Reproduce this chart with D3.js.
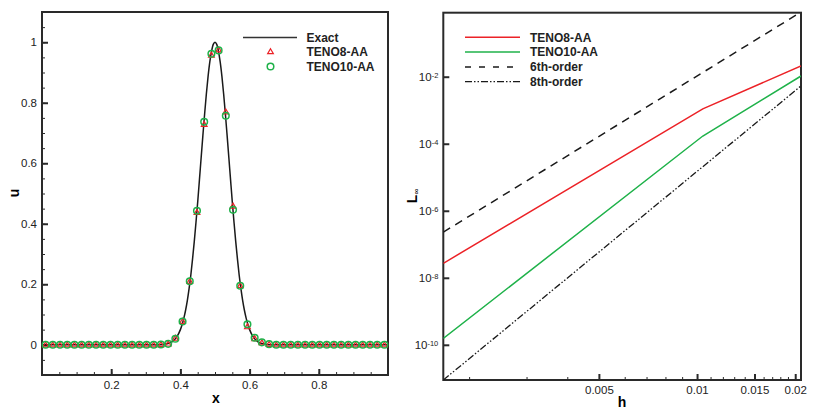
<!DOCTYPE html>
<html>
<head>
<meta charset="utf-8">
<script src="https://cdn.jsdelivr.net/npm/d3@7"></script>
<style>
  body { margin: 0; background: #fff; }
  svg { display: block; font-family: "Liberation Sans", Arial, sans-serif; }
</style>
</head>
<body>
<div id="chart"></div>
<script>
// ---- data: left panel (solution profile) ----
var nCells = 48
var cellX = d3.range(nCells).map(function(i) { return (i + 0.5) / nCells })
var teno8 = [0,0,0,0,0,0,0,0,0,0,0,0,0,0,0,0,
  0.001,0.003,0.022,0.078,0.210,0.438,0.729,0.958,0.975,0.770,0.459,0.196,0.060,0.021,0.007,0.002,
  0,0,0,0,0,0,0,0,0,0,0,0,0,0,0,0]
var teno10 = [0,0,0,0,0,0,0,0,0,0,0,0,0,0,0,0,
  0.001,0.003,0.020,0.077,0.210,0.443,0.737,0.962,0.973,0.757,0.446,0.195,0.068,0.023,0.008,0.002,
  0,0,0,0,0,0,0,0,0,0,0,0,0,0,0,0]
var exactX = [0, 0.30, 0.34, 0.35, 0.36, 0.37, 0.38, 0.39, 0.40, 0.405, 0.41, 0.415, 0.42, 0.425, 0.43, 0.435,
  0.44, 0.445, 0.45, 0.455, 0.46, 0.465, 0.47, 0.475, 0.48, 0.485, 0.49, 0.495, 0.50,
  0.505, 0.51, 0.515, 0.52, 0.525, 0.53, 0.535, 0.54, 0.545, 0.55, 0.555, 0.56, 0.565, 0.57,
  0.575, 0.58, 0.585, 0.59, 0.595, 0.60, 0.61, 0.62, 0.63, 0.64, 0.65, 0.66, 0.70, 1]
var exactU = [0, 0, 0, 0.001, 0.003, 0.006, 0.013, 0.027, 0.050, 0.067, 0.088, 0.114, 0.146, 0.185, 0.229, 0.282,
  0.340, 0.404, 0.472, 0.545, 0.619, 0.692, 0.763, 0.829, 0.887, 0.935, 0.970, 0.993, 1.000,
  0.993, 0.970, 0.935, 0.887, 0.829, 0.763, 0.692, 0.619, 0.545, 0.472, 0.404, 0.340, 0.282, 0.229,
  0.185, 0.146, 0.114, 0.088, 0.067, 0.050, 0.027, 0.013, 0.006, 0.003, 0.001, 0, 0, 0]
var uMajor = [0, 0.2, 0.4, 0.6, 0.8, 1]
var xMajor = [0.2, 0.4, 0.6, 0.8]

// ---- data: right panel (convergence) ----
var hGrid = [1/600, 1/96, 1/48]
var errTeno8 = [2.7e-8, 1.1e-3, 2.1e-2]
var errTeno10 = [1.55e-10, 1.7e-4, 1.05e-2]
var hRef = [1/600, 1/48]
var ref6th = [2.3e-7, 0.85]
var ref8th = [8.9e-12, 5.3e-3]
var hMajor = [0.005, 0.01, 0.015, 0.02]
var hMinor = [0.002, 0.003, 0.004, 0.006, 0.007, 0.008, 0.009, 0.011, 0.012, 0.013, 0.014, 0.016, 0.017, 0.018, 0.019]
var errMajor = [1e-2, 1e-4, 1e-6, 1e-8, 1e-10]
var errExp = ["-2", "-4", "-6", "-8", "-10"]

var red = "#ec2227", green = "#1fb24a", axisCol = "#2a2a2a"

var svg = d3.select("#chart").append("svg")
  .attr("width", 814).attr("height", 413)

// ============ left panel ============
var L = {left: 42, right: 388, top: 12, bottom: 375}
var xs = d3.scaleLinear().domain([0, 1]).range([L.left, L.right])
var ys = d3.scaleLinear().domain([-0.1, 1.1]).range([L.bottom, L.top])

var left = svg.append("g")

// minor ticks
left.append("g").attr("transform", "translate(0," + L.bottom + ")")
  .call(d3.axisBottom(xs).tickValues(d3.range(0.05, 1, 0.05)).tickSize(-3).tickFormat(""))
left.append("g").attr("transform", "translate(" + L.left + ",0)")
  .call(d3.axisLeft(ys).tickValues(d3.range(-0.05, 1.1, 0.05)).tickSize(-3).tickFormat(""))
// major ticks
left.append("g").attr("class", "maj").attr("transform", "translate(0," + L.bottom + ")")
  .call(d3.axisBottom(xs).tickValues(xMajor).tickSize(-6).tickPadding(6).tickFormat(d3.format(".1f")))
left.append("g").attr("class", "maj").attr("transform", "translate(" + L.left + ",0)")
  .call(d3.axisLeft(ys).tickValues(uMajor).tickSize(-6).tickPadding(5).tickFormat(function(d) { return d === 0 || d === 1 ? d : d3.format(".1f")(d) }))

left.append("rect")
  .attr("x", L.left).attr("y", L.top)
  .attr("width", L.right - L.left).attr("height", L.bottom - L.top)
  .attr("fill", "none").attr("stroke", axisCol).attr("stroke-width", 2)

var exactLine = d3.line()
  .x(function(d) { return xs(d[0]) })
  .y(function(d) { return ys(d[1]) })
  .curve(d3.curveMonotoneX)

left.append("path")
  .attr("d", exactLine(d3.zip(exactX, exactU)))
  .attr("fill", "none").attr("stroke", "#1a1a1a").attr("stroke-width", 1.5)

var tri = d3.symbol().type(d3.symbolTriangle).size(14)
left.selectAll(".t8").data(d3.zip(cellX, teno8)).enter().append("path")
  .attr("class", "t8")
  .attr("d", tri)
  .attr("transform", function(d) { return "translate(" + xs(d[0]) + "," + (ys(d[1]) + 0.5) + ")" })
  .attr("fill", "none").attr("stroke", red).attr("stroke-width", 1.2)

left.selectAll(".t10").data(d3.zip(cellX, teno10)).enter().append("circle")
  .attr("class", "t10")
  .attr("cx", function(d) { return xs(d[0]) })
  .attr("cy", function(d) { return ys(d[1]) })
  .attr("r", 3.3)
  .attr("fill", "none").attr("stroke", green).attr("stroke-width", 1.5)

// legend
var lg = left.append("g")
lg.append("line").attr("x1", 243).attr("x2", 297).attr("y1", 37.5).attr("y2", 37.5)
  .attr("stroke", "#333").attr("stroke-width", 1.5)
lg.append("path").attr("d", tri).attr("transform", "translate(270.5,52)")
  .attr("fill", "none").attr("stroke", red).attr("stroke-width", 1.2)
lg.append("circle").attr("cx", 270.5).attr("cy", 66.5).attr("r", 3.3)
  .attr("fill", "none").attr("stroke", green).attr("stroke-width", 1.5)
var leftLabels = ["Exact", "TENO8-AA", "TENO10-AA"]
lg.selectAll("text").data(leftLabels).enter().append("text")
  .attr("x", 306.5).attr("y", function(d, i) { return 37.5 + i * 14.6 })
  .attr("dy", "0.35em")
  .style("font-size", "12px").style("font-weight", "bold").attr("fill", "#222")
  .text(function(d) { return d })

left.append("text").attr("x", 216).attr("y", 403).attr("text-anchor", "middle")
  .style("font-size", "14px").style("font-weight", "bold").text("x")
left.append("text").attr("transform", "translate(19,193) rotate(-90)").attr("text-anchor", "middle")
  .style("font-size", "14px").style("font-weight", "bold").text("u")

// ============ right panel ============
var R = {left: 443.3, right: 801, top: 12.7, bottom: 380}
var hs = d3.scaleLog().domain([1/600, 1/48]).range([R.left, R.right])
var es = d3.scaleLog().domain([Math.pow(10, -11.05), Math.pow(10, -0.09)]).range([R.bottom, R.top])

var right = svg.append("g")
right.append("clipPath").attr("id", "clipR").append("rect")
  .attr("x", R.left).attr("y", R.top).attr("width", R.right - R.left).attr("height", R.bottom - R.top)

right.append("g").attr("transform", "translate(0," + R.bottom + ")")
  .call(d3.axisBottom(hs).tickValues(hMinor).tickSize(-3).tickFormat(""))
right.append("g").attr("class", "maj").attr("transform", "translate(0," + R.bottom + ")")
  .call(d3.axisBottom(hs).tickValues(hMajor).tickSize(-6).tickPadding(6).tickFormat(function(d) { return String(d) }))
var yAx = right.append("g").attr("class", "maj").attr("transform", "translate(" + R.left + ",0)")
  .call(d3.axisLeft(es).tickValues(errMajor).tickSize(-6).tickPadding(5).tickFormat(""))
yAx.selectAll(".tick text").each(function(d, i) {
  var t = d3.select(this)
  t.append("tspan").text("10")
  t.append("tspan").attr("dy", "-0.45em").style("font-size", "7.5px").text(errExp[i])
})

right.append("rect")
  .attr("x", R.left).attr("y", R.top)
  .attr("width", R.right - R.left).attr("height", R.bottom - R.top)
  .attr("fill", "none").attr("stroke", axisCol).attr("stroke-width", 2)

var errLine = d3.line()
  .x(function(d) { return hs(d[0]) })
  .y(function(d) { return es(d[1]) })

var plotR = right.append("g").attr("clip-path", "url(#clipR)")
plotR.append("path").attr("d", errLine(d3.zip(hRef, ref6th)))
  .attr("fill", "none").attr("stroke", "#1a1a1a").attr("stroke-width", 1.5).attr("stroke-dasharray", "8,6")
plotR.append("path").attr("d", errLine(d3.zip(hRef, ref8th)))
  .attr("fill", "none").attr("stroke", "#1a1a1a").attr("stroke-width", 1.3).attr("stroke-dasharray", "7,2,1.5,2,1.5,2")
plotR.append("path").attr("d", errLine(d3.zip(hGrid, errTeno8)))
  .attr("fill", "none").attr("stroke", red).attr("stroke-width", 1.5)
plotR.append("path").attr("d", errLine(d3.zip(hGrid, errTeno10)))
  .attr("fill", "none").attr("stroke", green).attr("stroke-width", 1.5)

// legend
var rightLegend = [
  {name: "TENO8-AA", color: red, dash: null, w: 1.5},
  {name: "TENO10-AA", color: green, dash: null, w: 1.5},
  {name: "6th-order", color: "#1a1a1a", dash: "6,8", w: 1.5},
  {name: "8th-order", color: "#1a1a1a", dash: "7,2,1.5,2,1.5,2", w: 1.3}
]
var rl = right.append("g")
rl.selectAll("line").data(rightLegend).enter().append("line")
  .attr("x1", 465).attr("x2", 520)
  .attr("y1", function(d, i) { return 37.3 + i * 14.8 }).attr("y2", function(d, i) { return 37.3 + i * 14.8 })
  .attr("stroke", function(d) { return d.color }).attr("stroke-width", function(d) { return d.w })
  .attr("stroke-dasharray", function(d) { return d.dash })
rl.selectAll("text").data(rightLegend).enter().append("text")
  .attr("x", 530).attr("y", function(d, i) { return 37.3 + i * 14.8 }).attr("dy", "0.35em")
  .style("font-size", "12px").style("font-weight", "bold").attr("fill", "#222")
  .text(function(d) { return d.name })

right.append("text").attr("x", 622).attr("y", 407).attr("text-anchor", "middle")
  .style("font-size", "14px").style("font-weight", "bold").text("h")
var ll = right.append("text").attr("transform", "translate(417,196) rotate(-90)").attr("text-anchor", "middle")
  .style("font-size", "14px").style("font-weight", "bold")
ll.append("tspan").text("L")
ll.append("tspan").attr("dy", "0.3em").style("font-size", "8px").style("font-weight", "normal").text("\u221e")

// common axis styling
svg.selectAll(".domain").remove()
svg.selectAll(".tick line").attr("stroke", axisCol).attr("stroke-width", 1)
svg.selectAll(".maj .tick line").attr("stroke-width", 2)
svg.selectAll(".tick text").style("font-size", "11.5px").attr("fill", "#222")
</script>
</body>
</html>
